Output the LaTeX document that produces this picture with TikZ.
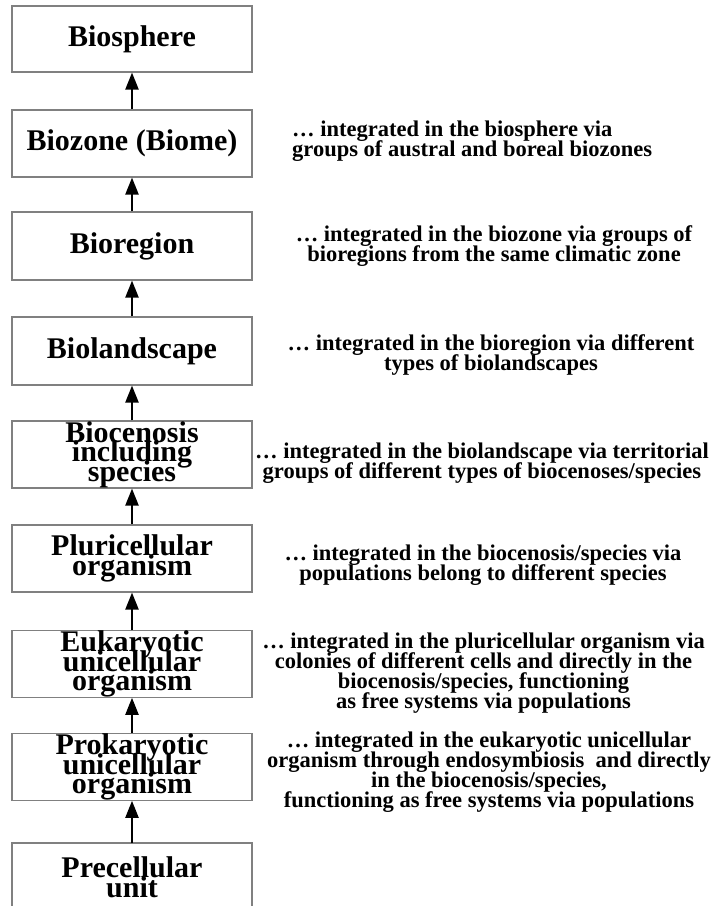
\documentclass[tikz,border=0pt]{standalone}
\usepackage{fontspec}
\setmainfont{Liberation Serif}
\usetikzlibrary{arrows.meta}
\newcommand{\tightlines}{\lineskiplimit=-60pt\lineskip=0pt\relax}
\begin{document}
\begin{tikzpicture}[x=1pt,y=-1pt,
  boxline/.style={draw=black!50, line width=1.1pt},
  lvl/.style={boxline, minimum width=240pt, inner sep=0pt, align=center,
    font=\fontsize{30}{19.5}\selectfont\bfseries\tightlines},
  lvltext/.style={inner sep=0pt, align=center, font=\fontsize{30}{20}\selectfont\bfseries\tightlines},
  note/.style={align=center, inner sep=0pt, font=\fontsize{22.5}{20}\selectfont\bfseries\tightlines},
  up/.style={-{Triangle[length=17pt,width=13pt]}, line width=2.1pt}]
\useasboundingbox (0,0) rectangle (716,906);
\fill[white] (0,0) rectangle (716,906);
% level boxes
\node[lvl, minimum height=66pt] (b1) at (132,39) {Biosphere};
\node[lvl, minimum height=67pt] (b2) at (132,143.5) {Biozone (Biome)};
\node[lvl, minimum height=68pt] (b3) at (132,246) {Bioregion};
\node[lvl, minimum height=68pt] (b4) at (132,351) {Biolandscape};
\node[lvl, minimum height=67pt] (b5) at (132,454.5) {Biocenosis\\including\\species};
\node[lvl, minimum height=67pt] (b6) at (132,558.5) {Pluricellular\\organism};
\node[lvl, minimum height=66pt] (b7) at (132,664) {Eukaryotic\\unicellular\\organism};
\node[lvl, minimum height=66pt] (b8) at (132,767) {Prokaryotic\\unicellular\\organism};
% bottom box, cut by the page edge
\draw[boxline] (12,906) -- (12,843) -- (252,843) -- (252,906);
\coordinate (b9) at (132,843);
\node[lvltext] (t9) at (132,877) {Precellular\\unit};
% arrows
\draw[up] (b2.north) -- (b1.south);
\draw[up] (b3.north) -- (b2.south);
\draw[up] (b4.north) -- (b3.south);
\draw[up] (b5.north) -- (b4.south);
\draw[up] (b6.north) -- (b5.south);
\draw[up] (b7.north) -- (b6.south);
\draw[up] (b8.north) -- (b7.south);
\draw[up] (b9) -- (b8.south);
% notes
\node[note, align=left, anchor=west] (n2) at (292,141) {… integrated in the biosphere via\\groups of austral and boreal biozones};
\node[note] (n3) at (494,246) {… integrated in the biozone via groups of\\bioregions from the same climatic zone};
\node[note] (n4) at (491,355) {… integrated in the bioregion via different\\types of biolandscapes};
\node[note] (n5) at (482,463.5) {… integrated in the biolandscape via territorial\\groups of different types of biocenoses/species};
\node[note] (n6) at (483,565) {… integrated in the biocenosis/species via\\populations belong to different species};
\node[note] (n7) at (483.5,673) {… integrated in the pluricellular organism via\\colonies of different cells and directly in the\\biocenosis/species, functioning\\as free systems via populations};
\node[note] (n8) at (489,772) {… integrated in the eukaryotic unicellular\\organism through endosymbiosis\ \ and directly\\in the biocenosis/species,\\functioning as free systems via populations};
\end{tikzpicture}
\end{document}
